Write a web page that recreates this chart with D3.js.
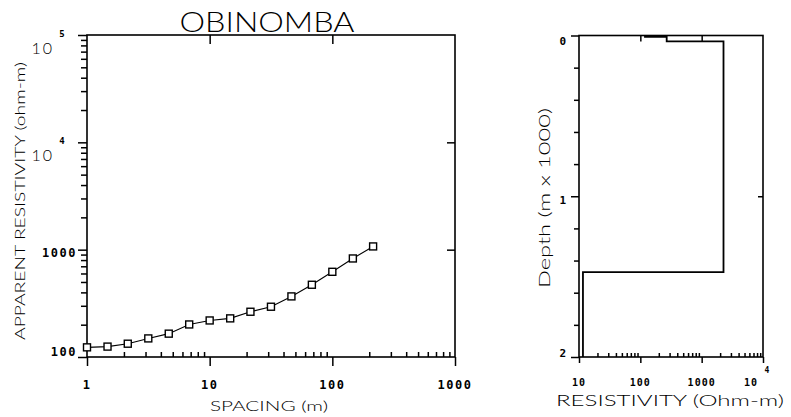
<!DOCTYPE html>
<html>
<head>
<meta charset="utf-8">
<script src="https://cdn.jsdelivr.net/npm/d3@7"></script>
<style>
  body { margin: 0; background: #fff; }
  .lbl { font-family: Lato, "DejaVu Sans", sans-serif; font-weight: 300; fill: #000; }
  .tk { font-family: "DejaVu Sans Mono", monospace; font-weight: bold; fill: #000; }
</style>
</head>
<body>
<div id="chart"></div>
<script>
// sounding curve
const spacing = [1, 1.47, 2.15, 3.16, 4.64, 6.81, 10, 14.7, 21.5, 31.6, 46.4, 68.1, 100, 147, 215];
const apparentRes = [123, 125, 133, 149, 165, 201, 219, 229, 264, 294, 367, 471, 622, 828, 1072];

// layered model
const layerRes = [119, 269, 2270, 11.6];
const layerBottom = [8, 36, 1472]; // m, last layer is open

// tick labels
const spacingTicks = [1, 10, 100, 1000];
const resTicks = [100, 1000, 1e4, 1e5];
const resTickBase = ["100", "1000", "10", "10"];
const resTickExp = ["", "", "4", "5"];
const modelResTicks = [10, 100, 1000, 1e4];
const modelResBase = ["10", "100", "1000", "10"];
const modelResExp = ["", "", "", "4"];
const depthTicks = [0, 1, 2];

const width = 791, height = 417;

const svg = d3.select("#chart").append("svg")
    .attr("width", width)
    .attr("height", height);

svg.append("rect").attr("width", width).attr("height", height).attr("fill", "#fff");

// ---------- left panel ----------
const L = { left: 87, right: 455, top: 35, bottom: 357 };

const x = d3.scaleLog().domain([1, 1000]).range([L.left, L.right]);
const y = d3.scaleLog().domain([100, 1e5]).range([L.bottom, L.top]);

const minorOf = (lo, hi) => {
    const out = [];
    for (let d = lo; d < hi; d *= 10)
        for (let k = 2; k <= 9; k++) out.push(d * k);
    return out;
};

const left = svg.append("g");

// frame
left.append("rect")
    .attr("x", L.left).attr("y", L.top)
    .attr("width", L.right - L.left).attr("height", L.bottom - L.top)
    .attr("fill", "none").attr("stroke", "#000").attr("stroke-width", 1.6);

// left axis ticks (outward)
left.append("g").attr("transform", `translate(${L.left},0)`)
    .call(d3.axisLeft(y).tickValues(resTicks).tickSize(9).tickFormat(""))
    .call(g => g.select(".domain").remove());
left.append("g").attr("transform", `translate(${L.left},0)`)
    .call(d3.axisLeft(y).tickValues(minorOf(100, 1e5)).tickSize(6).tickFormat(""))
    .call(g => g.select(".domain").remove());

// right border ticks (inward)
left.append("g").attr("transform", `translate(${L.right},0)`)
    .call(d3.axisRight(y).tickValues([1000, 1e4]).tickSize(-8).tickFormat(""))
    .call(g => g.select(".domain").remove());

// bottom axis
left.append("g").attr("transform", `translate(0,${L.bottom})`)
    .call(d3.axisBottom(x).tickValues(spacingTicks).tickSize(9).tickFormat(""))
    .call(g => g.select(".domain").remove());
left.append("g").attr("transform", `translate(0,${L.bottom})`)
    .call(d3.axisBottom(x).tickValues(minorOf(1, 1000)).tickSize(-5).tickFormat(""))
    .call(g => g.select(".domain").remove());

// top border ticks
left.append("g").attr("transform", `translate(0,${L.top})`)
    .call(d3.axisTop(x).tickValues([10, 100]).tickSize(-9).tickFormat(""))
    .call(g => g.select(".domain").remove());

left.selectAll(".tick line").attr("stroke", "#000").attr("stroke-width", 1.5);

// tick labels
spacingTicks.forEach((v, i) => {
    left.append("text").attr("class", "tk")
        .attr("x", x(v)).attr("y", 389)
        .attr("text-anchor", "middle")
        .attr("font-size", 12).attr("letter-spacing", 1.5)
        .text(String(v));
});

resTicks.forEach((v, i) => {
    if (resTickExp[i] === "") {
        left.append("text").attr("class", "tk")
            .attr("x", 77).attr("y", y(v) + (i === 0 ? -1 : 7))
            .attr("text-anchor", "end")
            .attr("font-size", 12).attr("letter-spacing", 1.5)
            .text(resTickBase[i]);
    } else {
        left.append("text").attr("class", "lbl")
            .attr("x", 54).attr("y", y(v) + 19)
            .attr("text-anchor", "end")
            .attr("font-size", 16).attr("letter-spacing", 2)
            .text(resTickBase[i]);
        left.append("text").attr("class", "tk")
            .attr("x", 62).attr("y", y(v) + 2)
            .attr("text-anchor", "middle")
            .attr("font-size", 9)
            .text(resTickExp[i]);
    }
});

// sounding curve
const pts = spacing.map((s, i) => [s, apparentRes[i]]);
left.append("path")
    .datum(pts)
    .attr("fill", "none").attr("stroke", "#000").attr("stroke-width", 1.1)
    .attr("d", d3.line().x(d => x(d[0])).y(d => y(d[1])));

left.selectAll("rect.pt").data(pts).join("rect")
    .attr("class", "pt")
    .attr("x", d => x(d[0]) - 3.5).attr("y", d => y(d[1]) - 3.5)
    .attr("width", 7).attr("height", 7)
    .attr("fill", "#fff").attr("stroke", "#000").attr("stroke-width", 1.4);

// titles
svg.append("text").attr("class", "lbl")
    .attr("x", 267).attr("y", 32)
    .attr("text-anchor", "middle")
    .attr("font-size", 27)
    .attr("textLength", 175).attr("lengthAdjust", "spacingAndGlyphs")
    .text("OBINOMBA");

svg.append("text").attr("class", "lbl")
    .attr("x", 269).attr("y", 411)
    .attr("text-anchor", "middle")
    .attr("font-size", 14)
    .attr("textLength", 118).attr("lengthAdjust", "spacingAndGlyphs")
    .text("SPACING (m)");

svg.append("text").attr("class", "lbl")
    .attr("transform", "translate(25,201) rotate(-90)")
    .attr("text-anchor", "middle")
    .attr("font-size", 14)
    .attr("textLength", 278).attr("lengthAdjust", "spacingAndGlyphs")
    .text("APPARENT RESISTIVITY (ohm-m)");

// ---------- right panel ----------
const R = { left: 579, right: 763, top: 35.5, bottom: 357 };

const xr = d3.scaleLog().domain([10, 1e4]).range([R.left, R.right]);
const yr = d3.scaleLinear().domain([0, 2]).range([R.top, R.bottom]);

const right = svg.append("g");

right.append("rect")
    .attr("x", R.left).attr("y", R.top)
    .attr("width", R.right - R.left).attr("height", R.bottom - R.top)
    .attr("fill", "none").attr("stroke", "#000").attr("stroke-width", 1.6);

right.append("g").attr("transform", `translate(${R.left},0)`)
    .call(d3.axisLeft(yr).tickValues(depthTicks).tickSize(8).tickFormat(""))
    .call(g => g.select(".domain").remove());
right.append("g").attr("transform", `translate(${R.left},0)`)
    .call(d3.axisLeft(yr).tickValues(d3.range(1, 10).filter(k => k !== 5).map(k => k * 0.2)).tickSize(5).tickFormat(""))
    .call(g => g.select(".domain").remove());
right.append("g").attr("transform", `translate(${R.right},0)`)
    .call(d3.axisRight(yr).tickValues([1]).tickSize(-5).tickFormat(""))
    .call(g => g.select(".domain").remove());

right.append("g").attr("transform", `translate(0,${R.bottom})`)
    .call(d3.axisBottom(xr).tickValues(modelResTicks).tickSize(6).tickFormat(""))
    .call(g => g.select(".domain").remove());
right.append("g").attr("transform", `translate(0,${R.bottom})`)
    .call(d3.axisBottom(xr).tickValues(minorOf(10, 1e4)).tickSize(-4).tickFormat(""))
    .call(g => g.select(".domain").remove());
right.append("g").attr("transform", `translate(0,${R.top})`)
    .call(d3.axisTop(xr).tickValues([100, 1000]).tickSize(-6).tickFormat(""))
    .call(g => g.select(".domain").remove());

right.selectAll(".tick line").attr("stroke", "#000").attr("stroke-width", 1.5);

// model step line
const step = [];
let layerTop = 0;
layerRes.forEach((r, i) => {
    const bot = i < layerBottom.length ? layerBottom[i] / 1000 : 2;
    step.push([r, layerTop], [r, bot]);
    layerTop = bot;
});
right.append("path")
    .datum(step)
    .attr("fill", "none").attr("stroke", "#000").attr("stroke-width", 1.8)
    .attr("d", d3.line().x(d => xr(d[0])).y(d => yr(d[1])));

// labels
depthTicks.forEach((v, i) => {
    right.append("text").attr("class", "tk")
        .attr("x", 566).attr("y", [45, 204, 357][i])
        .attr("text-anchor", "end")
        .attr("font-size", 11)
        .text(String(v));
});

modelResTicks.forEach((v, i) => {
    right.append("text").attr("class", "tk")
        .attr("x", i === 3 ? 751 : xr(v)).attr("y", 386)
        .attr("text-anchor", "middle")
        .attr("font-size", 10).attr("letter-spacing", 1)
        .text(modelResBase[i]);
    if (modelResExp[i]) {
        right.append("text").attr("class", "tk")
            .attr("x", 767).attr("y", 373)
            .attr("text-anchor", "middle")
            .attr("font-size", 8)
            .text(modelResExp[i]);
    }
});

svg.append("text").attr("class", "lbl")
    .attr("x", 670).attr("y", 406)
    .attr("text-anchor", "middle")
    .attr("font-size", 16)
    .attr("textLength", 228).attr("lengthAdjust", "spacingAndGlyphs")
    .text("RESISTIVITY (Ohm-m)");

svg.append("text").attr("class", "lbl")
    .attr("transform", "translate(550,198) rotate(-90)")
    .attr("text-anchor", "middle")
    .attr("font-size", 15)
    .attr("textLength", 180).attr("lengthAdjust", "spacingAndGlyphs")
    .text("Depth (m x 1000)");
</script>
</body>
</html>
